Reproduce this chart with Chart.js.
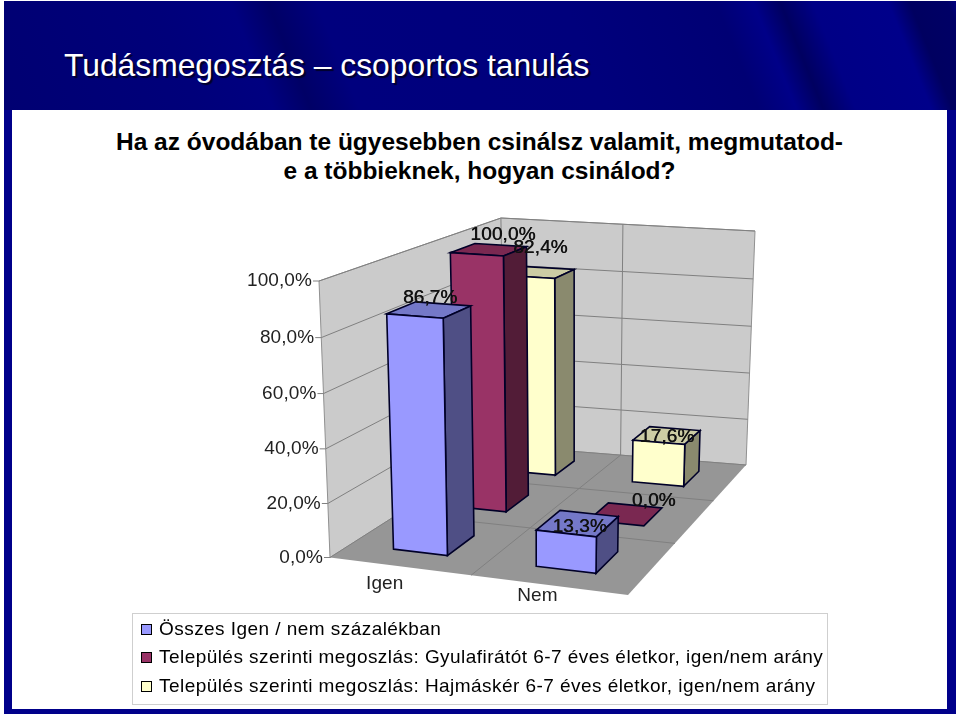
<!DOCTYPE html>
<html>
<head>
<meta charset="utf-8">
<title>Tudásmegosztás</title>
<script src="https://cdn.jsdelivr.net/npm/chart.js@4/dist/chart.umd.min.js"></script>
<style>
html, body { margin: 0; padding: 0; background: #fff; }
body { width: 960px; height: 716px; position: relative; overflow: hidden; font-family: "Liberation Sans", Arial, sans-serif; }
#frame { position: absolute; left: 4px; top: 1px; width: 952px; height: 713px; background: #00008a; }
#band { position: absolute; left: 4px; top: 1px; width: 952px; height: 109px;
  background: linear-gradient(68deg, #000072 0, #00007a 180px, #000080 250px, #000066 285px, #00007e 330px, #00007c 560px, #000074 700px, #000088 735px, #000060 760px, #000086 790px, #00008a 860px, #000060 880px, #000066 915px, #000086 925px, #00006a 945px, #00006e 975px, #000090 1000px); }
#panel { position: absolute; left: 12px; top: 110px; width: 935px; height: 599px; background: #fff; }
#title { position: absolute; left: 64px; top: 46px; color: #fff; font-size: 31.8px; line-height: 38px; white-space: nowrap; text-shadow: 2px 2px 1px #000028; }
#question { position: absolute; left: 12px; top: 127px; width: 935px; text-align: center; color: #000; font-weight: bold; font-size: 24.5px; line-height: 29px; }
canvas { position: absolute; left: 0; top: 0; }
#legend { position: absolute; left: 132px; top: 613px; width: 694px; height: 90px; border: 1px solid #cfcfcf; }
#legend div { position: absolute; left: 26px; color: #000; font-size: 19px; line-height: 22px; white-space: nowrap; letter-spacing: 0.45px; }
#legend i { position: absolute; left: -18px; top: 6px; width: 9px; height: 9px; border: 1px solid #000; }
</style>
</head>
<body>
<div id="frame"></div>
<div id="band"></div>
<div id="panel"></div>
<div id="title">Tudásmegosztás – csoportos tanulás</div>
<div id="question">Ha az óvodában te ügyesebben csinálsz valamit, megmutatod-<br>e a többieknek, hogyan csinálod?</div>
<canvas id="chart" width="960" height="716"></canvas>
<div id="legend"></div>
<script>
const categories = ["Igen", "Nem"]
const seriesNames = [
    "Összes Igen / nem százalékban",
    "Település szerinti megoszlás: Gyulafirátót 6-7 éves életkor, igen/nem arány",
    "Település szerinti megoszlás: Hajmáskér 6-7 éves életkor, igen/nem arány"
]
const osszes = [86.7, 13.3]
const gyulafiratot = [100.0, 0.0]
const hajmasker = [82.4, 17.6]

const frontColors = ["#9999ff", "#993366", "#ffffcc"]
const sideColors = ["#4f4f85", "#521c37", "#8a8a6e"]
const topColors = ["#7478c8", "#7a2851", "#cccca4"]

// corners of the 3d box on the screen (front left, front right, back right, back left)
const floorQuad = [[330, 557.5], [628, 595], [746, 465], [505, 446]]
const ceilQuad = [[319, 281], [633, 305], [755, 231], [501, 218]]
const rows = 3
const barShift = 0.006

// excel placed these labels by hand, so they need a nudge [dx, dy] per series and category
const labelNudge = [[[3, -12], [4, 3]], [[16, -15], [30, -13]], [[2, -25], [2, 1]]]
const catNudge = [[-14, 18], [-10, 11]]

function percent(v) {
    return v.toFixed(1).replace(".", ",") + "%"
}

function makeHomography(q) { // unit square -> quad
    const [x0, y0] = q[0], [x1, y1] = q[1], [x2, y2] = q[2], [x3, y3] = q[3]
    const dx1 = x1 - x2, dx2 = x3 - x2, sx = x0 - x1 + x2 - x3
    const dy1 = y1 - y2, dy2 = y3 - y2, sy = y0 - y1 + y2 - y3
    const den = dx1 * dy2 - dx2 * dy1
    const g = (sx * dy2 - dx2 * sy) / den
    const h = (dx1 * sy - sx * dy1) / den
    const a = x1 - x0 + g * x1, b = x3 - x0 + h * x3
    const d = y1 - y0 + g * y1, e = y3 - y0 + h * y3
    return (u, v) => {
        const w = g * u + h * v + 1
        return [(a * u + b * v + x0) / w, (d * u + e * v + y0) / w]
    }
}

const onFloor = makeHomography(floorQuad)
const onCeil = makeHomography(ceilQuad)

// u across, v into the depth, t height, all 0..1
function project(u, v, t) {
    const a = onFloor(u, v), b = onCeil(u, v)
    const s = t / (1 + 0.03 * (1 - t)) // height is a bit foreshortened too
    return [a[0] + (b[0] - a[0]) * s, a[1] + (b[1] - a[1]) * s]
}

function poly(ctx, pts, fill, stroke, lineWidth) {
    ctx.beginPath()
    pts.forEach((p, i) => i ? ctx.lineTo(p[0], p[1]) : ctx.moveTo(p[0], p[1]))
    ctx.closePath()
    if (fill) { ctx.fillStyle = fill; ctx.fill() }
    if (stroke) { ctx.strokeStyle = stroke; ctx.lineWidth = lineWidth; ctx.stroke() }
}

function line(ctx, a, b) {
    ctx.beginPath()
    ctx.moveTo(a[0], a[1])
    ctx.lineTo(b[0], b[1])
    ctx.stroke()
}

function drawBox(chart) {
    const ctx = chart.ctx, xs = chart.scales.x, ys = chart.scales.y
    poly(ctx, [project(0, 0, 0), project(0, 1, 0), project(0, 1, 1), project(0, 0, 1)], "#cbcbcb", "#909090", 1)
    poly(ctx, [project(0, 1, 0), project(1, 1, 0), project(1, 1, 1), project(0, 1, 1)], "#cbcbcb", "#909090", 1)
    poly(ctx, [project(0, 0, 0), project(1, 0, 0), project(1, 1, 0), project(0, 1, 0)], "#969696")

    ctx.strokeStyle = "#808080"
    ctx.lineWidth = 1
    ys.ticks.forEach(tick => {
        const t = (ys.bottom - ys.getPixelForValue(tick.value)) / ys.height
        line(ctx, project(0, 0, t), project(0, 1, t))
        line(ctx, project(0, 1, t), project(1, 1, t))
        const p = project(0, 0, t)
        line(ctx, p, [p[0] - 6, p[1]])
    })
    // category and row divisions
    const mid = (xs.getPixelForValue(0) + xs.getPixelForValue(1)) / 2
    const um = (mid - xs.left) / xs.width
    line(ctx, project(um, 0, 0), project(um, 1, 0))
    line(ctx, project(um, 1, 0), project(um, 1, 1))
    for (let r = 1; r < rows; r++) {
        line(ctx, project(0, r / rows, 0), project(1, r / rows, 0))
    }
}

function drawBar(chart, ds, i) {
    const ctx = chart.ctx, xs = chart.scales.x, ys = chart.scales.y
    const el = chart.getDatasetMeta(ds).data[i]
    const u0 = (el.x - el.width / 2 - xs.left) / xs.width + barShift
    const u1 = (el.x + el.width / 2 - xs.left) / xs.width + barShift
    const v0 = (ds + 0.29) / rows
    const v1 = (ds + 0.72) / rows
    const t = (el.base - el.y) / ys.height
    const f = project
    poly(ctx, [f(u0, v0, t), f(u1, v0, t), f(u1, v1, t), f(u0, v1, t)], topColors[ds], "#000028", 1.6)
    if (t > 0) {
        poly(ctx, [f(u1, v0, 0), f(u1, v1, 0), f(u1, v1, t), f(u1, v0, t)], sideColors[ds], "#000028", 1.6)
        poly(ctx, [f(u0, v0, 0), f(u1, v0, 0), f(u1, v0, t), f(u0, v0, t)], frontColors[ds], "#000028", 1.6)
    }
}

function drawTexts(chart) {
    const ctx = chart.ctx, xs = chart.scales.x, ys = chart.scales.y
    ctx.fillStyle = "#222"
    ctx.font = '19px "Liberation Sans", Arial, sans-serif'
    ctx.letterSpacing = "0.1px"
    ctx.textBaseline = "middle"

    ctx.textAlign = "right"
    ys.ticks.forEach(tick => {
        const t = (ys.bottom - ys.getPixelForValue(tick.value)) / ys.height
        const p = project(0, 0, t)
        ctx.fillText(tick.label, p[0] - 7, p[1])
    })

    ctx.textAlign = "center"
    categories.forEach((name, i) => {
        const u = (xs.getPixelForValue(i) - xs.left) / xs.width
        const p = project(u, 0, 0)
        ctx.fillText(name, p[0] + catNudge[i][0], p[1] + catNudge[i][1])
    })

    ctx.fillStyle = "#111"
    chart.data.datasets.forEach((dataset, ds) => {
        const v = (ds + 0.5) / rows
        dataset.data.forEach((value, i) => {
            const el = chart.getDatasetMeta(ds).data[i]
            const u = (el.x - xs.left) / xs.width
            const t = (el.base - el.y) / ys.height
            const p = project(u, v, t)
            const text = percent(value)
            const x = p[0] + labelNudge[ds][i][0], y = p[1] + labelNudge[ds][i][1]
            ctx.fillText(text, x, y)
            ctx.fillText(text, x + 0.5, y)
        })
    })
}

const prism3d = {
    id: "prism3d",
    beforeDatasetsDraw(chart) { // the flat bars are replaced by projected ones
        drawBox(chart)
        for (let ds = rows - 1; ds >= 0; ds--) {
            categories.forEach((c, i) => drawBar(chart, ds, i))
        }
        drawTexts(chart)
        return false
    }
}

new Chart(document.querySelector("#chart"), {
    type: "bar",
    data: {
        labels: categories,
        datasets: [osszes, gyulafiratot, hajmasker].map((values, i) => ({
            label: seriesNames[i],
            data: values,
            backgroundColor: frontColors[i],
            borderColor: "#000028"
        }))
    },
    options: {
        responsive: false,
        animation: false,
        layout: { padding: 0 },
        datasets: { bar: { grouped: false, barPercentage: 0.39, categoryPercentage: 1 } },
        plugins: { legend: { display: false }, title: { display: false }, tooltip: { enabled: false } },
        scales: {
            x: { display: false },
            y: {
                display: false,
                min: 0,
                max: 100,
                ticks: { stepSize: 20, callback: v => percent(v) }
            }
        }
    },
    plugins: [prism3d]
})

const legend = document.querySelector("#legend")
const legendTops = [4, 32, 61]
seriesNames.forEach((name, i) => {
    const row = document.createElement("div")
    row.style.top = legendTops[i] + "px"
    row.textContent = name
    const box = document.createElement("i")
    box.style.background = frontColors[i]
    row.appendChild(box)
    legend.appendChild(row)
})
</script>
</body>
</html>
